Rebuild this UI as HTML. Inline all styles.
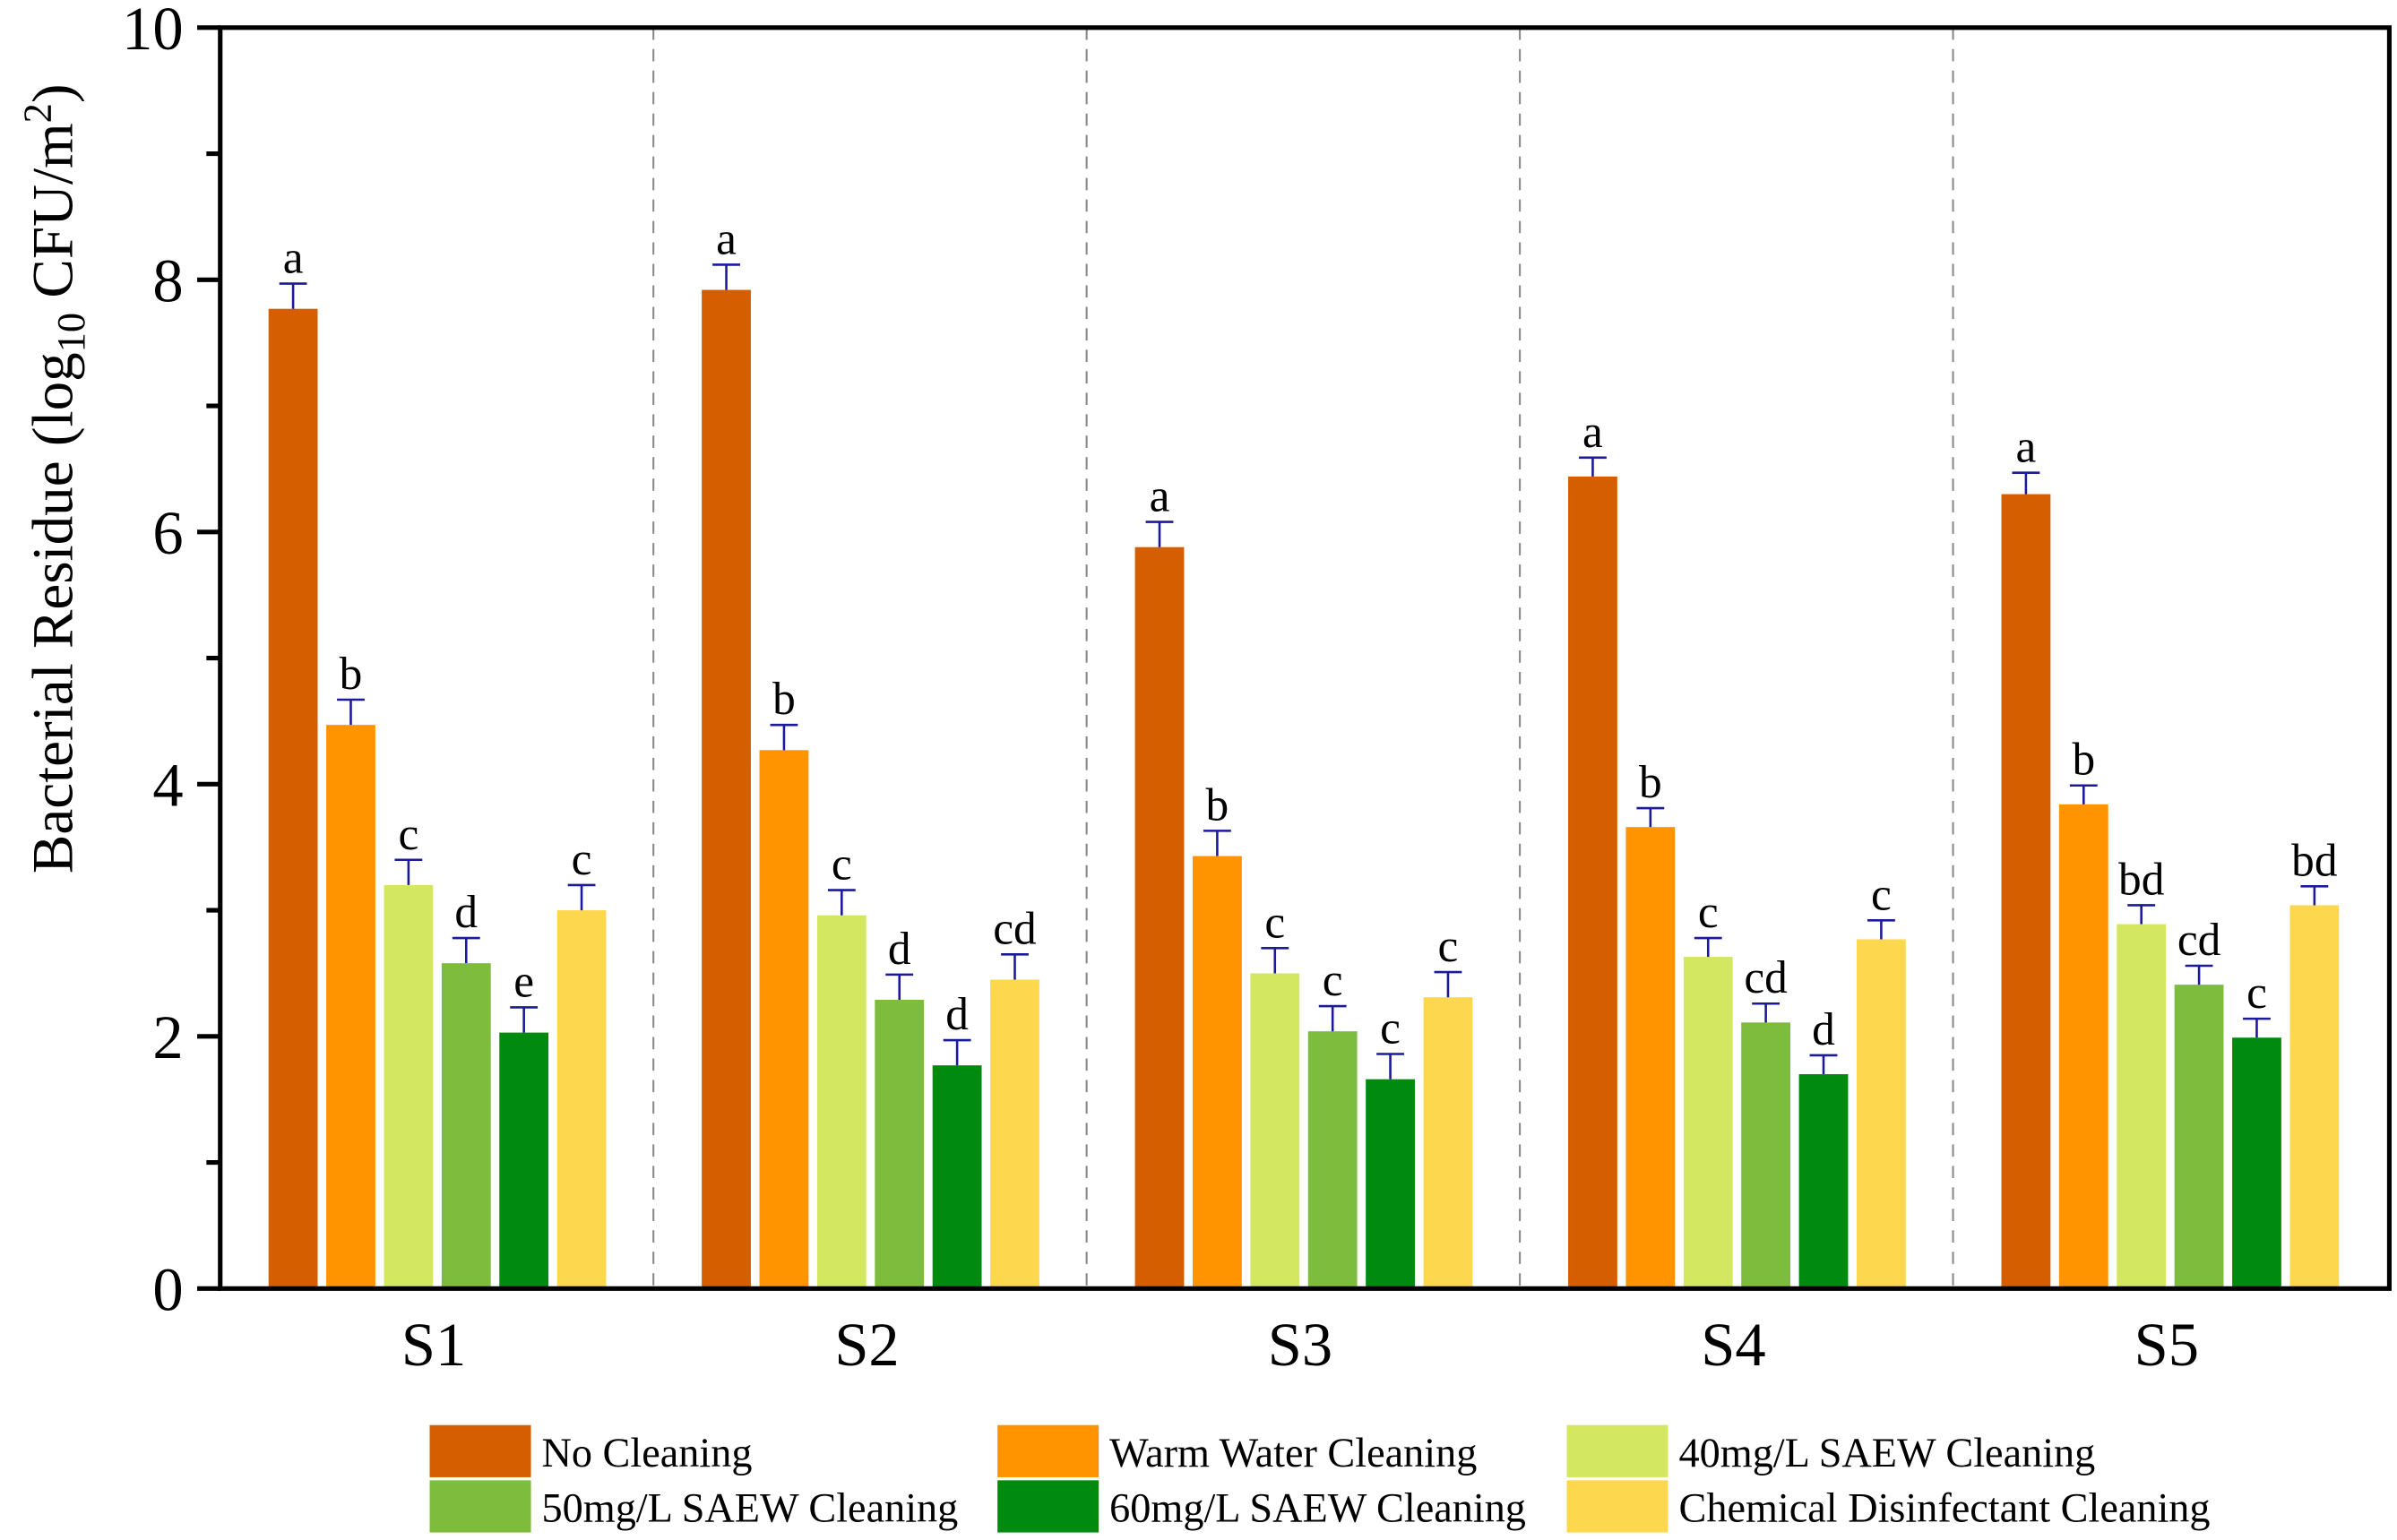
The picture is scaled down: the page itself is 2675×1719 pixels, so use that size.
<!DOCTYPE html>
<html><head><meta charset="utf-8"><style>
html,body{margin:0;padding:0;background:#fff}
svg, svg text{font-family:"Liberation Serif","Times New Roman",serif}
</style></head><body>
<svg id="chart" width="2675" height="1714" viewBox="0 0 1562 1001" preserveAspectRatio="none" font-family="Liberation Serif, serif" xmlns="http://www.w3.org/2000/svg">
<g id="plot"></g>
<text transform="translate(47,312) rotate(-90)" text-anchor="middle" font-size="38" font-family="Liberation Serif, serif">Bacterial Residue (log<tspan font-size="26" dy="8">10</tspan><tspan dy="-8"> CFU/m</tspan><tspan font-size="26" dy="-14">2</tspan><tspan dy="14">)</tspan></text>
<g id="legend"></g>
</svg>
<script>
const categories=["S1","S2","S3","S4","S5"];
const seriesNames=["No Cleaning","Warm Water Cleaning","40mg/L SAEW Cleaning","50mg/L SAEW Cleaning","60mg/L SAEW Cleaning","Chemical Disinfectant Cleaning"];
const colors=["#D55E00","#FF9400","#D4E761","#7DBC3D","#008B10","#FDD84F"];
const noCleaning=[7.77,7.92,5.88,6.44,6.30];
const warmWater=[4.47,4.27,3.43,3.66,3.84];
const saew40=[3.20,2.96,2.50,2.63,2.89];
const saew50=[2.58,2.29,2.04,2.11,2.41];
const saew60=[2.03,1.77,1.66,1.70,1.99];
const chemical=[3.00,2.45,2.31,2.77,3.04];
const errNo=[0.20,0.20,0.20,0.15,0.17];
const errWarm=[0.20,0.20,0.20,0.15,0.15];
const err40=[0.20,0.20,0.20,0.15,0.15];
const err50=[0.20,0.20,0.20,0.15,0.15];
const err60=[0.20,0.20,0.20,0.15,0.15];
const errChem=[0.20,0.20,0.20,0.15,0.15];
const lettersNo=["a","a","a","a","a"];
const lettersWarm=["b","b","b","b","b"];
const letters40=["c","c","c","c","bd"];
const letters50=["d","d","c","cd","cd"];
const letters60=["e","d","c","d","c"];
const lettersChem=["c","cd","c","c","bd"];
const yTicks=[0,2,4,6,8,10];

const series=[noCleaning,warmWater,saew40,saew50,saew60,chemical];
const errs=[errNo,errWarm,err40,err50,err60,errChem];
const lets=[lettersNo,lettersWarm,letters40,letters50,letters60,lettersChem];
const NS="http://www.w3.org/2000/svg";
const L=143.5,R=1557,T=18,B=840;
const y=v=>B-(v/10)*(B-T);
const gw=282.3;
const barW=32, step=37.6, off=31.5;
const bx=(g,s)=>L+g*gw+off+s*step;
const plot=document.getElementById('plot');
const FF="Liberation Serif, serif";
function mk(tag,attrs,parent){const e=document.createElementNS(NS,tag);for(const k in attrs)e.setAttribute(k,attrs[k]);if(tag==='text')e.setAttribute('font-family',FF);(parent||plot).appendChild(e);return e;}

for(let g=1;g<categories.length;g++){
  const l=mk('line',{x1:L+g*gw,x2:L+g*gw,y1:T,y2:B,stroke:'#888','stroke-width':1.2,'stroke-dasharray':'8,6'});
  
  
}
series.forEach((vals,s)=>{
  vals.forEach((v,g)=>{
    const x=bx(g,s);
    const r=mk('rect',{x:x,y:y(v),width:barW,height:B-y(v),fill:colors[s]});
    
    
    const cx=x+barW/2, top=y(v+errs[s][g]);
    const eb=mk('path',{d:`M${cx},${y(v)}V${top}M${cx-9},${top}H${cx+9}`,stroke:'#1a1a9a','stroke-width':1.5,fill:'none'});
    
    
    const t=mk('text',{x:cx,y:top-7,'text-anchor':'middle','font-size':30});
    t.textContent=lets[s][g];
    
    
  });
});
const fr=mk('rect',{x:L,y:T,width:R-L,height:B-T,fill:'none',stroke:'#000','stroke-width':3});


for(let v=0;v<=10;v++){
  const major=v%2===0;
  const tk=mk('line',{x1:L-(major?15:9),x2:L,y1:y(v),y2:y(v),stroke:'#000','stroke-width':3});
  
  
}
yTicks.forEach(v=>{
  const t=mk('text',{x:L-24,y:y(v)+14,'text-anchor':'end','font-size':40});
  t.textContent=v;
  
  
});
categories.forEach((c,g)=>{
  const t=mk('text',{x:L+g*gw+gw/2-2,y:890,'text-anchor':'middle','font-size':40});
  t.textContent=c;
  
  
});
const lg=document.getElementById('legend');
const colX=[280,650,1021], rowY=[929,965];
seriesNames.forEach((n,i)=>{
  const cx=colX[i%3], ry=rowY[Math.floor(i/3)];
  const sw=mk('rect',{x:cx,y:ry,width:66,height:34,fill:colors[i]},lg);
  
  
  const t=mk('text',{x:cx+73,y:ry+27,'font-size':27},lg);
  t.textContent=n;
  
  
});
</script>
</body></html>
